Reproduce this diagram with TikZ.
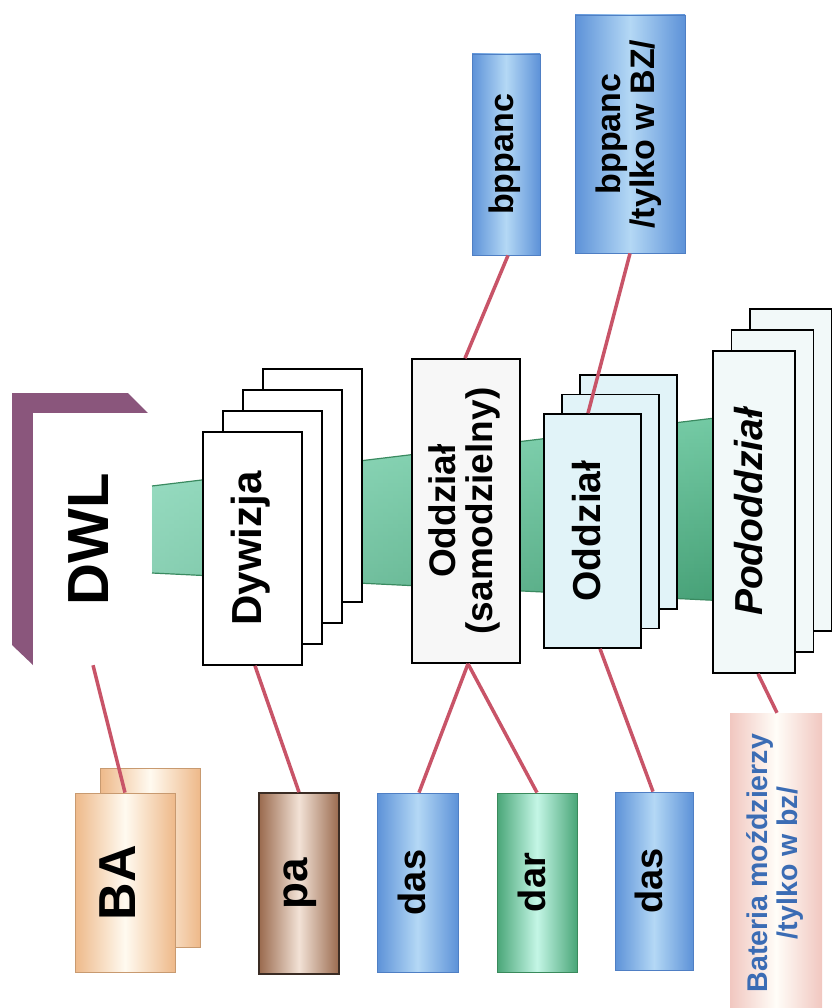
\documentclass[tikz,border=0pt]{standalone}
\usepackage{fontspec}
\setmainfont{Liberation Sans}
\usepackage{graphicx}
\usetikzlibrary{calc,fadings}

% palette
\definecolor{dwlpurple}{RGB}{138,86,124}
\definecolor{linkred}{RGB}{200,84,104}
\definecolor{bandtop}{RGB}{110,200,160}
\definecolor{bandmid}{RGB}{185,245,226}
\definecolor{bandbot}{RGB}{55,150,105}
\definecolor{bandedge}{RGB}{58,138,96}
\definecolor{blueedge}{RGB}{93,146,216}
\definecolor{bluemid}{RGB}{180,216,245}
\definecolor{blueline}{RGB}{79,127,196}
\definecolor{greenedge}{RGB}{74,166,120}
\definecolor{greenmid}{RGB}{196,246,230}
\definecolor{greenline}{RGB}{58,138,92}
\definecolor{peachedge}{RGB}{238,185,138}
\definecolor{peachmid}{RGB}{255,250,240}
\definecolor{peachline}{RGB}{200,154,112}
\definecolor{brownedge}{RGB}{154,106,78}
\definecolor{brownmid}{RGB}{242,226,214}
\definecolor{brownline}{RGB}{58,44,36}
\definecolor{pinkedge}{RGB}{241,199,192}
\definecolor{pinkmid}{RGB}{255,253,248}
\definecolor{textblue}{RGB}{59,108,180}
\definecolor{paleblue}{RGB}{225,243,248}
\definecolor{palecyan}{RGB}{242,249,249}
\definecolor{mintwash}{RGB}{200,250,235}

\tikzfading[name=bandfade, left color=transparent!45, right color=transparent!100]

\newcommand\vtext[1]{\rotatebox{90}{\begin{tabular}{@{}c@{}}#1\end{tabular}}}

\tikzset{
  card/.style={draw=black, line width=1.6pt, fill=white, inner sep=0pt},
  bluebox/.style={draw=blueline, line width=0.8pt, inner sep=0pt,
    left color=blueedge, right color=blueedge, middle color=bluemid},
  greenbox/.style={draw=greenline, line width=0.8pt, inner sep=0pt,
    left color=greenedge, right color=greenedge, middle color=greenmid},
  peachbox/.style={draw=peachline, line width=0.8pt, inner sep=0pt,
    left color=peachedge, right color=peachedge, middle color=peachmid},
  brownbox/.style={draw=brownline, line width=1.6pt, inner sep=0pt,
    left color=brownedge, right color=brownedge, middle color=brownmid},
  pinkbox/.style={inner sep=0pt,
    left color=pinkedge, right color=pinkedge, middle color=pinkmid},
  link/.style={draw=linkred, line width=3.5pt},
  lbl/.style={font=\bfseries\fontsize{#1}{#1}\selectfont},
}

\begin{document}
\begin{tikzpicture}[x=1pt, y=-1pt]
\useasboundingbox (0,0) rectangle (831,1008);

% widening band behind the hierarchy
\path[top color=bandtop, middle color=bandmid, bottom color=bandbot]
  (152,486) -- (831,404) -- (831,606) -- (152,573) -- cycle;
\fill[mintwash, path fading=bandfade]
  (152,486) -- (831,404) -- (831,606) -- (152,573) -- cycle;
\draw[bandedge, line width=1.2pt] (152,486) -- (831,404);
\draw[bandedge, line width=1.2pt] (152,573) -- (831,606);

% DWL block with its purple side faces
\fill[dwlpurple] (12,393) -- (128,393) -- (148,413) -- (33,413) -- (33,665) -- (12,645) -- cycle;
\node[inner sep=0pt, fill=white, minimum width=115pt, minimum height=252pt,
      font=\bfseries\fontsize{58}{58}\selectfont] (dwl) at (90.5,539)
  {\hspace*{13pt}\vtext{DWL}};

% Dywizja stack
\foreach \k in {3,2,1}
  \node[card, minimum width=99pt, minimum height=233pt] (dyw\k) at ({252.5+20*\k},{548.5-21*\k}) {};
\node[card, minimum width=99pt, minimum height=233pt, lbl=42] (dyw) at (252.5,548.5) {\vtext{Dywizja}};

% Oddzial (samodzielny)
\node[card, fill=white!97!black, minimum width=108pt, minimum height=304pt,
      font=\bfseries\fontsize{37}{36}\selectfont] (ods) at (466,511)
  {\vtext{Oddział\\(samodzielny)}};

% Oddzial stack
\foreach \k in {2,1}
  \node[card, fill=paleblue, minimum width=97pt, minimum height=234pt] (odz\k) at ({592.5+18*\k},{531-19.5*\k}) {};
\node[card, fill=paleblue, minimum width=97pt, minimum height=234pt, lbl=39] (odz) at (592.5,531) {\vtext{Oddział}};

% Pododdzial stack
\foreach \k in {2,1}
  \node[card, fill=palecyan, minimum width=82pt, minimum height=322pt] (pod\k) at ({754+18.5*\k},{512-21*\k}) {};
\node[card, fill=palecyan, minimum width=82pt, minimum height=322pt,
      font=\bfseries\itshape\fontsize{39}{39}\selectfont] (pod) at (754,512) {\vtext{Pododdział}};

% anti-tank units above
\node[bluebox, minimum width=68pt, minimum height=201pt, lbl=34] (bp1) at (506,154.5) {\vtext{bppanc}};
\node[bluebox, minimum width=110pt, minimum height=238pt,
      font=\bfseries\fontsize{34}{32}\selectfont] (bp2) at (630,134) {\vtext{bppanc\\/tylko w BZ/}};

% supporting units below
\node[peachbox, minimum width=100pt, minimum height=179pt] (ba2) at (150,857.5) {};
\node[peachbox, minimum width=100pt, minimum height=179pt, lbl=52] (ba) at (125,882.5) {\vtext{BA}};
\node[brownbox, minimum width=80pt, minimum height=181pt, lbl=44] (pa) at (299,883.5) {\vtext{pa}};
\node[bluebox, minimum width=81pt, minimum height=179pt, lbl=38] (das1) at (417.5,882.5) {\vtext{das}};
\node[greenbox, minimum width=80pt, minimum height=179pt, lbl=38] (dar) at (537,882.5) {\vtext{dar}};
\node[bluebox, minimum width=78pt, minimum height=178pt, lbl=38] (das2) at (654,881) {\vtext{das}};
\node[pinkbox, minimum width=92pt, minimum height=300pt, text=textblue,
      font=\bfseries\fontsize{28.5}{30}\selectfont] (bat) at (776,863)
  {\vtext{Bateria moździerzy\\/tylko w bz/}};

% subordination links
\draw[link] ([xshift=2.5pt]dwl.south) -- (ba.north);
\draw[link] ([xshift=2.5pt]dyw.south) -- (pa.north);
\draw[link] ([xshift=2pt]ods.south) -- ([xshift=1.5pt]das1.north);
\draw[link] ([xshift=2pt]ods.south) -- (dar.north);
\draw[link] ([xshift=7.5pt]odz.south) -- ([xshift=-1pt]das2.north);
\draw[link] ([xshift=4pt]pod.south) -- ([xshift=1pt]bat.north);
\draw[link] ([xshift=2pt]bp1.south) -- ([xshift=-1pt]ods.north);
\draw[link] (bp2.south) -- ([xshift=-4.5pt]odz.north);
\end{tikzpicture}
\end{document}
